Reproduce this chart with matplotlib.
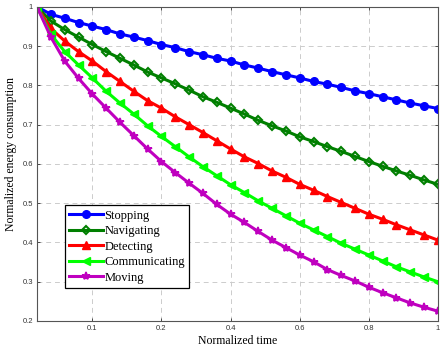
import numpy as np
import matplotlib
matplotlib.use('Agg')
import matplotlib.pyplot as plt

# sample index along the time axis (30 samples)
t = np.arange(1, 31)

stopping = [1.0, 0.981, 0.971, 0.960, 0.951, 0.942, 0.931, 0.923, 0.914, 0.904,
            0.896, 0.886, 0.878, 0.869, 0.862, 0.852, 0.844, 0.835, 0.827, 0.819,
            0.810, 0.803, 0.795, 0.786, 0.779, 0.771, 0.763, 0.755, 0.748, 0.741]
navigating = [1.0, 0.964, 0.942, 0.923, 0.904, 0.886, 0.869, 0.852, 0.834, 0.819,
              0.804, 0.788, 0.771, 0.757, 0.742, 0.727, 0.711, 0.697, 0.684, 0.669,
              0.657, 0.644, 0.632, 0.619, 0.606, 0.594, 0.582, 0.571, 0.559, 0.548]
detecting = [1.0, 0.945, 0.913, 0.886, 0.862, 0.835, 0.810, 0.785, 0.761, 0.742,
             0.720, 0.700, 0.680, 0.659, 0.638, 0.618, 0.601, 0.582, 0.566, 0.548,
             0.533, 0.517, 0.502, 0.487, 0.472, 0.459, 0.445, 0.432, 0.419, 0.406]
communicating = [1.0, 0.930, 0.886, 0.852, 0.819, 0.785, 0.755, 0.727, 0.697, 0.670,
                 0.644, 0.618, 0.593, 0.570, 0.547, 0.527, 0.506, 0.487, 0.468, 0.449,
                 0.432, 0.415, 0.398, 0.383, 0.368, 0.353, 0.338, 0.325, 0.312, 0.300]
moving = [1.0, 0.923, 0.862, 0.818, 0.778, 0.742, 0.706, 0.672, 0.638, 0.606,
          0.578, 0.551, 0.525, 0.497, 0.472, 0.451, 0.428, 0.406, 0.387, 0.368,
          0.351, 0.331, 0.316, 0.302, 0.286, 0.272, 0.259, 0.246, 0.235, 0.225]

xtick_pos = [5, 10, 15, 20, 25, 30]
xtick_labels = ['0.1', '0.2', '0.4', '0.6', '0.8', '1']
ytick_pos = [0.2, 0.3, 0.4, 0.5, 0.6, 0.7, 0.8, 0.9, 1.0]
ytick_labels = ['0.2', '0.3', '0.4', '0.5', '0.6', '0.7', '0.8', '0.9', '1']

fig = plt.figure(figsize=(4.41, 3.51), dpi=100)
ax = fig.add_axes([0.084, 0.0855, 0.909, 0.895])

lw = 2.2
ax.plot(t, stopping, '-o', color='#0000ff', lw=lw, ms=5.5, label='Stopping')
ax.plot(t, navigating, '-D', color='#007f00', lw=lw, ms=4.5, mfc='none', mew=1.5, label='Navigating')
ax.plot(t, detecting, '-^', color='#ff0000', lw=lw, ms=6, label='Detecting')
ax.plot(t, communicating, '-<', color='#00ff00', lw=lw, ms=6, label='Communicating')
ax.plot(t, moving, '-*', color='#bf00bf', lw=lw, ms=6, mew=1.2, label='Moving')

ax.set_xlim(1, 30)
ax.set_ylim(0.2, 1.0)
ax.set_xticks(xtick_pos)
ax.set_xticklabels(xtick_labels)
ax.set_yticks(ytick_pos)
ax.set_yticklabels(ytick_labels)
ax.tick_params(direction='in', top=True, right=True, length=2.5, width=0.6,
               labelsize=5.5, colors='#333333', pad=3)
for lab in ax.get_xticklabels() + ax.get_yticklabels():
    lab.set_family('Liberation Sans')

ax.grid(True, ls=(0, (5, 4)), color='#cccccc', lw=0.7)
for s in ax.spines.values():
    s.set_color('#555555')
    s.set_linewidth(0.8)

ax.set_xlabel('Normalized time', family='Liberation Serif', fontsize=8.5, labelpad=2)
ax.set_ylabel('Normalized energy consumption', family='Liberation Serif', fontsize=8.5)
ax.yaxis.set_label_coords(-0.05, 0.53)

leg = ax.legend(loc='lower left', bbox_to_anchor=(0.07, 0.105), borderaxespad=0,
                prop={'family': 'Liberation Serif', 'size': 9}, fancybox=False,
                framealpha=1, edgecolor='black', handlelength=2.7, handletextpad=0.1,
                labelspacing=0.28, borderpad=0.35)
leg.get_frame().set_linewidth(0.9)

fig.savefig('out.png', dpi=100)
